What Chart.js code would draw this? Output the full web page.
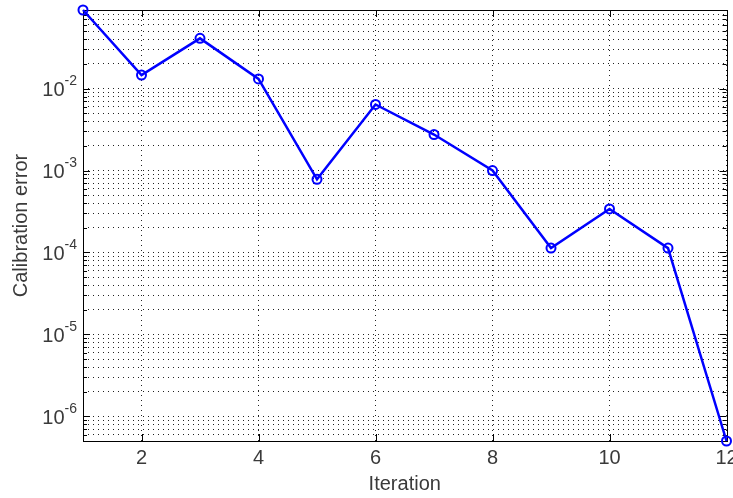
<!DOCTYPE html>
<html>
<head>
<meta charset="utf-8">
<script src="https://cdn.jsdelivr.net/npm/chart.js@4.4.1/dist/chart.umd.min.js"></script>
<style>
  html, body { margin: 0; padding: 0; background: #fff; }
</style>
</head>
<body>
<canvas id="errChart" width="733" height="498"></canvas>
<script>
// calibration error per iteration
const iterations = [1, 2, 3, 4, 5, 6, 7, 8, 9, 10, 11, 12];
const calibErrors = [0.091, 0.0146, 0.041, 0.0131, 7.8e-4, 6.4e-3, 2.75e-3, 1.0e-3, 1.13e-4, 3.4e-4, 1.13e-4, 5.0e-7];
const xTickValues = [2, 4, 6, 8, 10, 12];
const yDecades = [-7, -6, -5, -4, -3, -2, -1];

const FONT = '"Liberation Sans", Arial, Helvetica, sans-serif';
const TEXT_COLOR = '#3a3a3a';

// MATLAB-like box, inner tick marks and 10^n labels
const matlabAxes = {
    id: 'matlabAxes',
    beforeDatasetsDraw(chart) {
        const { ctx, chartArea: a, scales: { x, y } } = chart;
        ctx.save();
        ctx.strokeStyle = '#000';
        ctx.lineWidth = 1;
        ctx.beginPath();
        y.ticks.forEach(t => {
            const py = Math.round(y.getPixelForValue(t.value)) + 0.5;
            const len = t.major ? 7 : 4;
            ctx.moveTo(a.left, py); ctx.lineTo(a.left + len, py);
            ctx.moveTo(a.right, py); ctx.lineTo(a.right - len, py);
        });
        x.ticks.forEach(t => {
            const px = Math.round(x.getPixelForValue(t.value)) + 0.5;
            ctx.moveTo(px, a.bottom); ctx.lineTo(px, a.bottom - 7);
            ctx.moveTo(px, a.top); ctx.lineTo(px, a.top + 7);
        });
        ctx.stroke();
        ctx.strokeRect(Math.round(a.left) + 0.5, Math.round(a.top) + 0.5,
            Math.round(a.right - a.left), Math.round(a.bottom - a.top));
        ctx.restore();
    },
    afterDraw(chart) {
        const { ctx, scales: { y } } = chart;
        const rightEdge = 77;
        ctx.save();
        ctx.fillStyle = TEXT_COLOR;
        ctx.textBaseline = 'alphabetic';
        yDecades.forEach(e => {
            const v = Math.pow(10, e);
            if (v < y.min || v > y.max) return;
            const py = y.getPixelForValue(v);
            ctx.font = '14px ' + FONT;
            ctx.textAlign = 'right';
            const expText = String(e);
            const expW = ctx.measureText(expText).width;
            ctx.fillText(expText, rightEdge, py - 3.5);
            ctx.font = '20px ' + FONT;
            ctx.fillText('10', rightEdge - expW, py + 7.5);
        });
        ctx.restore();
    }
};

new Chart(document.getElementById('errChart'), {
    type: 'line',
    data: {
        labels: iterations,
        datasets: [{
            label: 'Calibration error',
            data: iterations.map((it, i) => ({ x: it, y: calibErrors[i] })),
            borderColor: '#0000ff',
            borderWidth: 2.5,
            pointStyle: 'circle',
            pointRadius: 4.5,
            pointBorderWidth: 2,
            pointBorderColor: '#0000ff',
            pointBackgroundColor: 'rgba(0,0,0,0)',
            tension: 0,
            clip: false
        }]
    },
    options: {
        responsive: false,
        animation: false,
        devicePixelRatio: 1,
        layout: {
            padding: { top: 10, right: 6, left: 0, bottom: 0 }
        },
        plugins: {
            legend: { display: false },
            tooltip: { enabled: false }
        },
        scales: {
            x: {
                type: 'linear',
                min: 1,
                max: 12,
                afterBuildTicks: (scale) => {
                    scale.ticks = xTickValues.map(v => ({ value: v }));
                },
                afterFit: (scale) => {
                    scale.height = 57;
                    scale.paddingLeft = 0;
                    scale.paddingRight = 0;
                },
                ticks: {
                    color: TEXT_COLOR,
                    padding: 5,
                    maxRotation: 0,
                    font: { family: FONT, size: 20 }
                },
                grid: {
                    color: '#222',
                    lineWidth: 1,
                    drawTicks: false
                },
                border: { display: false, dash: [1, 4] },
                title: {
                    display: true,
                    text: 'Iteration',
                    color: TEXT_COLOR,
                    font: { family: FONT, size: 20 },
                    padding: { top: 0, bottom: 2 }
                }
            },
            y: {
                type: 'logarithmic',
                min: Math.min(...calibErrors),
                max: Math.max(...calibErrors),
                afterBuildTicks: (scale) => {
                    const ticks = [];
                    yDecades.forEach(e => {
                        for (let m = 1; m <= 9; m++) {
                            const v = m * Math.pow(10, e);
                            if (v >= scale.min && v <= scale.max) {
                                ticks.push({ value: v, major: m === 1 });
                            }
                        }
                    });
                    scale.ticks = ticks;
                },
                afterFit: (scale) => {
                    scale.width = 83;
                    scale.paddingTop = 0;
                    scale.paddingBottom = 0;
                },
                ticks: { display: false },
                grid: {
                    color: '#222',
                    lineWidth: 1,
                    drawTicks: false
                },
                border: { display: false, dash: [1, 4] },
                title: {
                    display: true,
                    text: 'Calibration error',
                    color: TEXT_COLOR,
                    font: { family: FONT, size: 20 },
                    padding: { top: 9, bottom: 0 }
                }
            }
        }
    },
    plugins: [matlabAxes]
});
</script>
</body>
</html>
